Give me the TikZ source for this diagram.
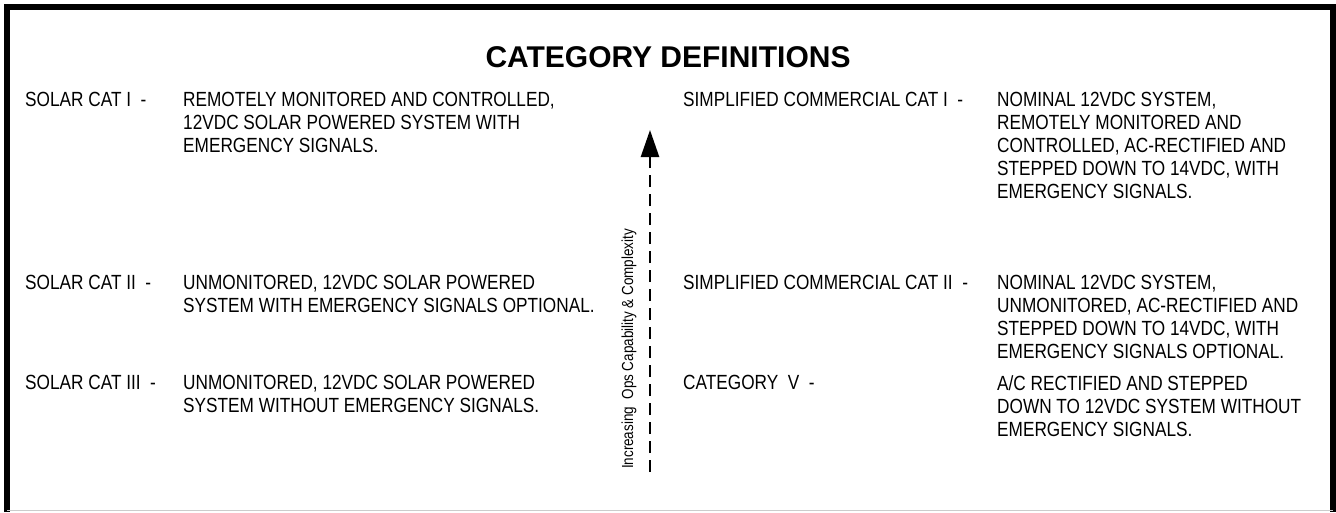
\documentclass[tikz,border=0pt]{standalone}
\usepackage{fontspec}
\setmainfont{Liberation Sans}
\newfontfamily\narrowfont{Liberation Sans}[FakeStretch=0.84]
\usetikzlibrary{arrows.meta}

\begin{document}
\begin{tikzpicture}
  [x=1pt,y=-1pt,
   cat label/.style={anchor=north west,inner sep=0pt,align=left,font=\narrowfont\fontsize{20.5}{23}\selectfont},
   cat text/.style={cat label},
   ops arrow/.style={line width=2.5pt,dash pattern=on 12pt off 7pt,-{Triangle[length=27pt,width=18pt]}}]

  \useasboundingbox (0,0) rectangle (1336,512);

  % frame
  \draw[line width=6pt] (7,512) -- (7,7) -- (1333,7) -- (1333,512);
  \draw[gray!40,line width=1pt] (7,510.5) -- (1333,510.5);

  \node[font=\bfseries\fontsize{30}{36}\selectfont] (title) at (668,57) {CATEGORY DEFINITIONS};

  % solar categories
  \node[cat label] (solar 1) at (25,92) {SOLAR CAT I\ \ -};
  \node[cat text] (solar 1 text) at (183,92) {REMOTELY MONITORED AND CONTROLLED,\\12VDC SOLAR POWERED SYSTEM WITH\\EMERGENCY SIGNALS.};
  \node[cat label] (solar 2) at (25,275) {SOLAR CAT II\ \ -};
  \node[cat text] (solar 2 text) at (183,275) {UNMONITORED, 12VDC SOLAR POWERED\\SYSTEM WITH EMERGENCY SIGNALS OPTIONAL.};
  \node[cat label] (solar 3) at (25,375) {SOLAR CAT III\ \ -};
  \node[cat text] (solar 3 text) at (183,375) {UNMONITORED, 12VDC SOLAR POWERED\\SYSTEM WITHOUT EMERGENCY SIGNALS.};

  % commercial categories
  \node[cat label] (comm 1) at (683,92) {SIMPLIFIED COMMERCIAL CAT I\ \ -};
  \node[cat text] (comm 1 text) at (997,92) {NOMINAL 12VDC SYSTEM,\\REMOTELY MONITORED AND\\CONTROLLED, AC-RECTIFIED AND\\STEPPED DOWN TO 14VDC, WITH\\EMERGENCY SIGNALS.};
  \node[cat label] (comm 2) at (683,275) {SIMPLIFIED COMMERCIAL CAT II\ \ -};
  \node[cat text] (comm 2 text) at (997,275) {NOMINAL 12VDC SYSTEM,\\UNMONITORED, AC-RECTIFIED AND\\STEPPED DOWN TO 14VDC, WITH\\EMERGENCY SIGNALS OPTIONAL.};
  \node[cat label] (cat 5) at (683,375) {CATEGORY\ \ V\ \ -};
  \node[cat text] (cat 5 text) at (997,375) {A/C RECTIFIED AND STEPPED\\DOWN TO 12VDC SYSTEM WITHOUT\\EMERGENCY SIGNALS.};

  % capability arrow
  \coordinate (ops low) at (650,472);
  \coordinate (ops high) at (650,130);
  \draw[ops arrow] (ops low) -- (ops high);
  \node[rotate=90,inner sep=0pt,font=\narrowfont\fontsize{16}{18}\selectfont] (ops label) at (629,349) {Increasing\ \ Ops Capability \& Complexity};

\end{tikzpicture}
\end{document}
